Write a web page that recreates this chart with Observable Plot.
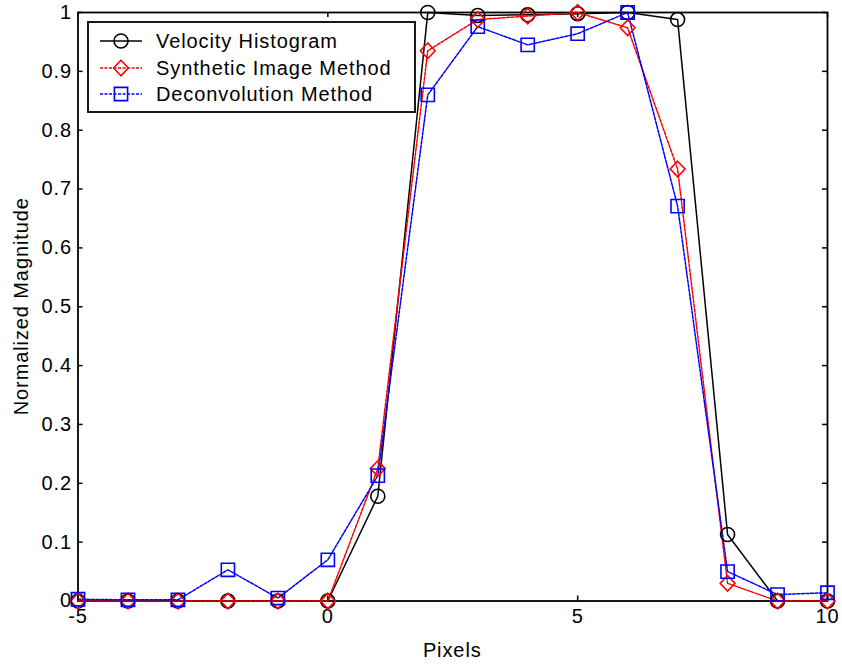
<!DOCTYPE html>
<html>
<head>
<meta charset="utf-8">
<script src="https://cdn.jsdelivr.net/npm/d3@7"></script>
<script src="https://cdn.jsdelivr.net/npm/@observablehq/plot@0.6"></script>
<style>
  html, body { margin: 0; padding: 0; background: #fff; }
  #chart { width: 842px; height: 667px; }
  #chart svg text { letter-spacing: 0.9px; }
</style>
</head>
<body>
<div id="chart"></div>
<script>
const pixels = [-5, -4, -3, -2, -1, 0, 1, 2, 3, 4, 5, 6, 7, 8, 9, 10];
const velocityHistogram = [0, 0, 0, 0, 0, 0, 0.178, 1.0, 0.995, 0.996, 0.998, 1.0, 0.988, 0.113, 0, 0];
const syntheticImage = [0, 0, 0, 0, 0, 0, 0.225, 0.935, 0.988, 0.994, 1.0, 0.974, 0.734, 0.03, 0, 0];
const deconvolution = [0.003, 0.002, 0.002, 0.053, 0.005, 0.07, 0.213, 0.86, 0.976, 0.945, 0.964, 1.0, 0.671, 0.05, 0.011, 0.014];
const seriesNames = ["Velocity Histogram", "Synthetic Image Method", "Deconvolution Method"];
const xTicks = [-5, 0, 5, 10];
const yTicks = [0, 0.1, 0.2, 0.3, 0.4, 0.5, 0.6, 0.7, 0.8, 0.9, 1];
const yTickLabels = ["0", "0.1", "0.2", "0.3", "0.4", "0.5", "0.6", "0.7", "0.8", "0.9", "1"];

const seriesValues = [velocityHistogram, syntheticImage, deconvolution];
const colors = ["#000000", "#ff0000", "#0000ff"];
const dashes = [null, "3,1.5", "3,1.5"];

const circleSym = { draw(ctx, size) { const r = Math.sqrt(size / Math.PI); ctx.moveTo(r, 0); ctx.arc(0, 0, r, 0, 2 * Math.PI); ctx.closePath(); } };
const diamondSym = { draw(ctx, size) { const r = Math.sqrt(size / Math.PI); ctx.moveTo(0, -r); ctx.lineTo(r * 0.95, 0); ctx.lineTo(0, r); ctx.lineTo(-r * 0.95, 0); ctx.closePath(); } };
const squareSym = { draw(ctx, size) { const r = Math.sqrt(size / Math.PI); ctx.rect(-r, -r, 2 * r, 2 * r); } };
const symbols = [circleSym, diamondSym, squareSym];
const radii = [7, 7.8, 6.6];

const data = seriesValues.map((vals, i) => pixels.map((x, j) => ({ x, y: vals[j], s: i })));

const W = 842, H = 667;
const mL = 77.5, mR = 15, mT = 12, mB = 66.5;
const plotH = H - mT - mB, plotW = W - mL - mR;
const tickLen = 5;
const FS = 20;

const marks = [];
marks.push(Plot.frame({ stroke: "#000", strokeWidth: 1.8 }));
marks.push(Plot.ruleX(xTicks, { x: d => d, insetTop: plotH - tickLen, stroke: "#000", strokeWidth: 1.5 }));
marks.push(Plot.ruleX(xTicks, { x: d => d, insetBottom: plotH - tickLen, stroke: "#000", strokeWidth: 1.5 }));
marks.push(Plot.ruleY(yTicks, { y: d => d, insetRight: plotW - tickLen, stroke: "#000", strokeWidth: 1.5 }));
marks.push(Plot.ruleY(yTicks, { y: d => d, insetLeft: plotW - tickLen, stroke: "#000", strokeWidth: 1.5 }));
marks.push(Plot.axisX({ ticks: xTicks, tickSize: 0, tickPadding: 8, fontSize: FS, label: null, tickFormat: d => String(d) }));
marks.push(Plot.axisY({ ticks: yTicks, tickSize: 0, tickPadding: 6, fontSize: FS, label: null, tickFormat: d => yTickLabels[yTicks.indexOf(d)] }));

data.forEach((d, i) => {
  marks.push(Plot.line(d, { x: "x", y: "y", stroke: colors[i], strokeWidth: 1.5, strokeDasharray: dashes[i] ?? undefined }));
});
data.forEach((d, i) => {
  marks.push(Plot.dot(d, { x: "x", y: "y", stroke: colors[i], strokeWidth: 1.6, fill: "none", symbol: symbols[i], r: radii[i] }));
});

const chart = Plot.plot({
  width: W, height: H,
  marginLeft: mL, marginRight: mR, marginTop: mT, marginBottom: mB,
  x: { domain: [-5, 10] },
  y: { domain: [0, 1] },
  style: { fontFamily: "'Liberation Sans', Arial, sans-serif", fontSize: FS + "px", color: "#000", background: "#fff" },
  marks
});

const svg = d3.select(chart);
svg.append("text").attr("x", mL + plotW / 2).attr("y", 657).attr("text-anchor", "middle")
  .attr("font-size", FS).attr("fill", "#000").text("Pixels");
svg.append("text").attr("transform", `translate(28,${mT + plotH / 2}) rotate(-90)`).attr("text-anchor", "middle")
  .attr("font-size", FS).attr("fill", "#000").text("Normalized Magnitude");

const lg = svg.append("g").attr("text-anchor", "start");
lg.append("rect").attr("x", 88).attr("y", 22).attr("width", 327).attr("height", 90)
  .attr("fill", "#fff").attr("stroke", "#000").attr("stroke-width", 1.8);
const rowsY = [41, 68, 94];
seriesNames.forEach((name, i) => {
  const y = rowsY[i];
  lg.append("line").attr("x1", 100).attr("x2", 142).attr("y1", y).attr("y2", y)
    .attr("stroke", colors[i]).attr("stroke-width", 1.5).attr("stroke-dasharray", dashes[i]);
  const path = d3.path();
  symbols[i].draw(path, Math.PI * radii[i] * radii[i]);
  lg.append("path").attr("d", path.toString()).attr("transform", `translate(121,${y})`)
    .attr("fill", "none").attr("stroke", colors[i]).attr("stroke-width", 1.6);
  lg.append("text").attr("x", 156).attr("y", y).attr("dy", "0.35em").attr("font-size", FS)
    .attr("text-anchor", "start").attr("fill", "#000").text(name);
});

document.getElementById("chart").appendChild(chart);
</script>
</body>
</html>
